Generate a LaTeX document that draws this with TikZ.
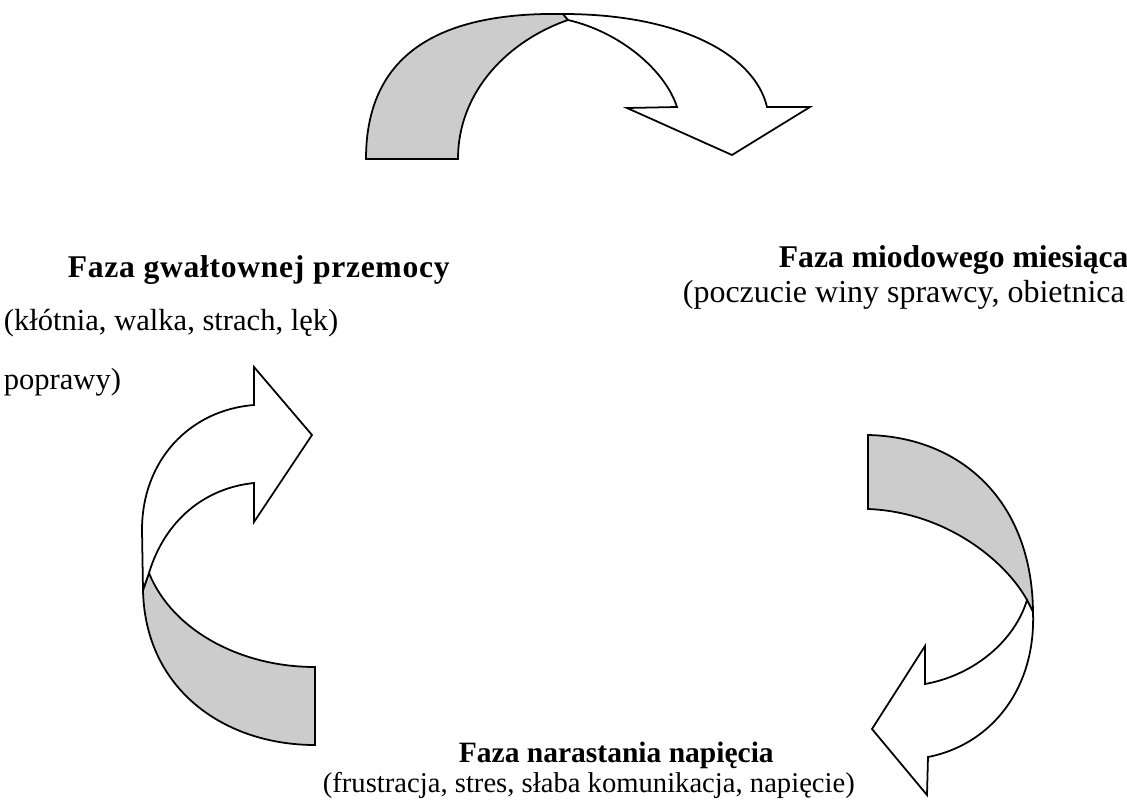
\documentclass[tikz,border=0pt]{standalone}
\usepackage{fontspec}
\setmainfont{Liberation Serif}
\definecolor{BandClr}{gray}{0.8}
\definecolor{FrontClr}{gray}{1}

\begin{document}
\begin{tikzpicture}[x=0.02cm,y=-0.02cm,line width=1pt,line join=miter]
\tikzset{band/.style={draw=black,fill=BandClr},
  front/.style={draw=black,fill=FrontClr},
  phase/.style={anchor=base west,inner sep=0pt,font=\fontsize{18}{21}\selectfont\bfseries},
  desc/.style={anchor=base west,inner sep=0pt,font=\fontsize{17.4}{20}\selectfont}}

\useasboundingbox (0,0) rectangle (1127,805);

\draw[band] (366,159) .. controls (366,50) and (445,12) .. (563,14) -- (568,20)
  .. controls (510,40) and (458,90) .. (458,159) -- cycle;
\draw[front] (563,14) .. controls (680,14) and (755,55) .. (767,107) -- (810,107)
  -- (732,155) -- (627,108) -- (677,107) .. controls (665,70) and (620,32) .. (568,20) -- cycle;

\draw[band] (143,590) .. controls (145,690) and (225,745) .. (315,745) -- (315,667)
  .. controls (240,667) and (172,630) .. (149,573) -- cycle;
\draw[front] (143,590) -- (142,530) .. controls (142,460) and (190,410) .. (254,405)
  -- (254,367) -- (312,435) -- (254,522) -- (254,483)
  .. controls (205,488) and (165,520) .. (149,573) -- cycle;

\draw[band] (868,435) .. controls (960,437) and (1032,500) .. (1033,612) -- (1027,600)
  .. controls (1005,560) and (945,512) .. (868,509) -- cycle;
\draw[front] (1033,612) .. controls (1036,690) and (990,745) .. (928,757) -- (927,795)
  -- (872,729) -- (925,646) -- (925,684) .. controls (975,675) and (1015,640) .. (1027,600) -- cycle;

\node[phase,font=\fontsize{18}{21}\selectfont\bfseries\addfontfeature{LetterSpace=2.2}] (przemoc) at (67,277) {Faza gwałtownej przemocy};
\node[desc] (przemocOpis) at (3,330) {(kłótnia, walka, strach, lęk)};
\node[desc] (poprawy) at (3,389) {poprawy)};

\node[phase] (miesiac) at (778,267) {Faza miodowego miesiąca};
\node[desc,font=\fontsize{18.2}{21}\selectfont] (miesiacOpis) at (682,302) {(poczucie winy sprawcy, obietnica};

\node[phase,font=\fontsize{16.8}{19}\selectfont\bfseries] (napiecie) at (458,762) {Faza narastania napięcia};
\node[desc,font=\fontsize{16.3}{19}\selectfont] (napiecieOpis) at (322,792) {(frustracja, stres, słaba komunikacja, napięcie)};

\end{tikzpicture}
\end{document}
